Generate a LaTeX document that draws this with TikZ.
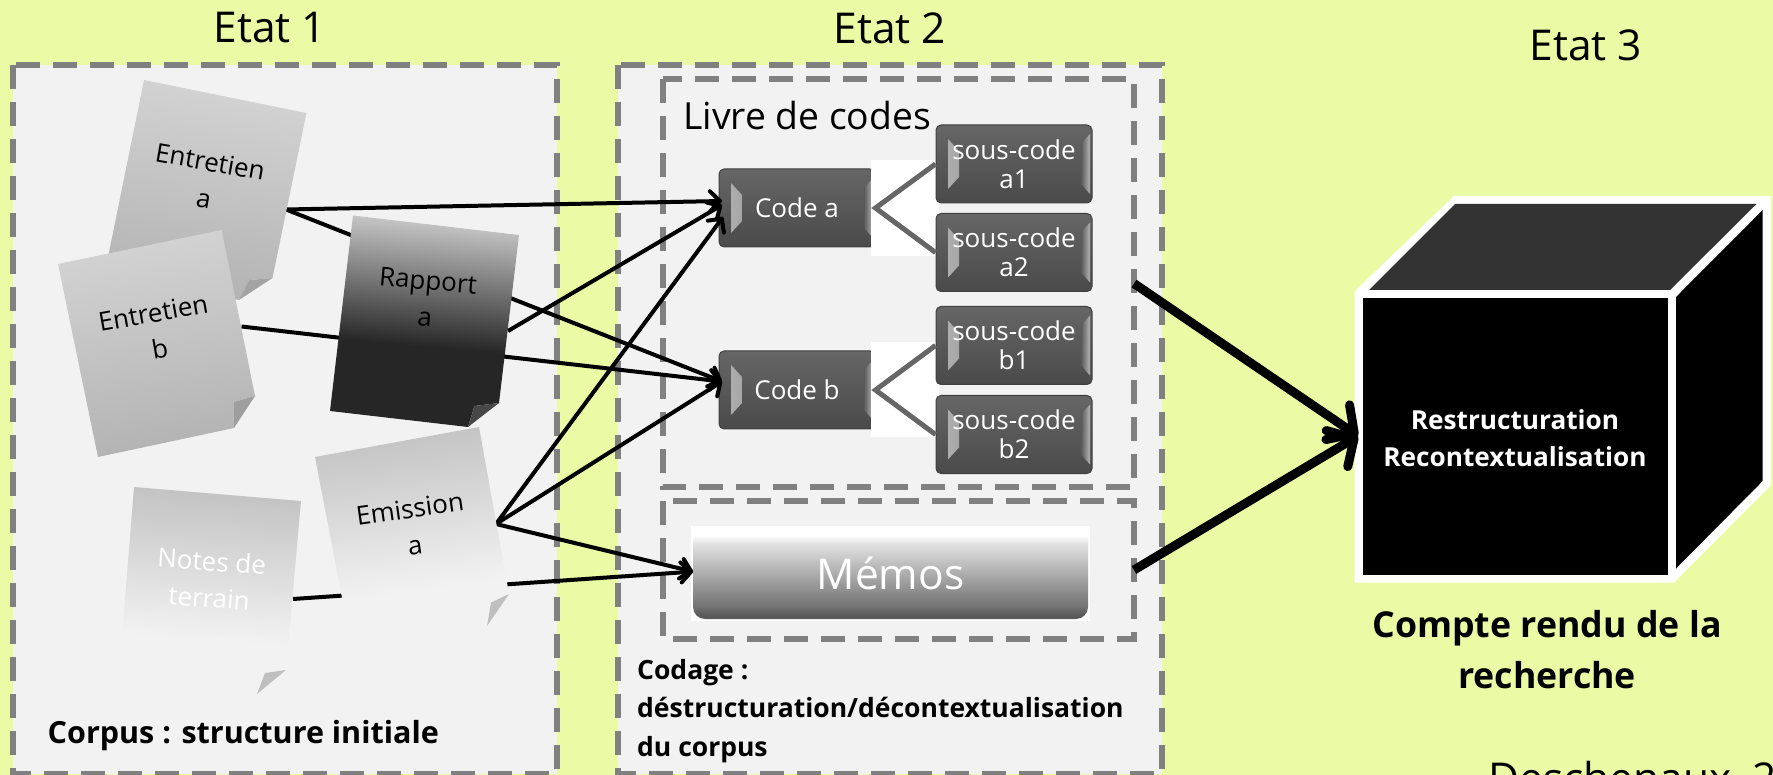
\documentclass[tikz,border=0pt]{standalone}
\usepackage{fontspec}
\setmainfont{Open Sans}
\usetikzlibrary{arrows.meta,calc,positioning}

\definecolor{slidebg}{HTML}{EBFBA5}
\definecolor{panelbg}{HTML}{F2F2F2}
\definecolor{dashgray}{HTML}{808080}
\definecolor{btntop}{HTML}{666666}
\definecolor{btnbot}{HTML}{4A4A4A}
\definecolor{btnmid}{HTML}{5A5A5A}
\definecolor{btnlight}{HTML}{B4B4B4}

% Paper and button gradients
\pgfdeclareverticalshading{papergray}{100bp}{color(0bp)=(black!30); color(25bp)=(black!30); color(75bp)=(black!17); color(100bp)=(black!17)}
\pgfdeclareverticalshading{paperdark}{100bp}{color(0bp)=(black!85); color(44bp)=(black!85); color(75bp)=(black!20); color(100bp)=(black!20)}
\pgfdeclareverticalshading{paperfade}{100bp}{color(0bp)=(panelbg); color(38bp)=(panelbg); color(75bp)=(black!24); color(100bp)=(black!24)}
\pgfdeclareverticalshading{memoshade}{100bp}{color(0bp)=(black!70); color(27bp)=(black!65); color(32bp)=(black!55); color(66bp)=(black!12); color(71bp)=(white); color(100bp)=(white)}

\begin{document}
\begin{tikzpicture}[x=1pt, y=-1pt,
    every node/.style={inner sep=0pt},
    panel/.style={fill=panelbg, draw=dashgray, line width=5.5pt, dash pattern=on 24pt off 13pt},
    innerpanel/.style={draw=dashgray, line width=5.5pt, dash pattern=on 24pt off 13pt},
    etat/.style={font=\fontsize{42.5}{50}\selectfont},
    boldnote/.style={font=\fontsize{30.5}{38.5}\selectfont\bfseries, align=left},
    papertext/.style={font=\fontsize{26}{37}\selectfont, align=center},
    bevelbox/.style={rounded corners=5pt, draw=black!75, line width=1pt, top color=btntop, bottom color=btnbot,
      text=white, align=center, path picture={
        \shade[sharp corners, left color=btnlight, right color=btnmid]
          ($(path picture bounding box.north west)+(12pt,-14pt)$) -- ++(11pt,-12pt)
          -- ($(path picture bounding box.south west)+(23pt,26pt)$) -- ++(-11pt,-12pt) -- cycle;
        \shade[sharp corners, left color=btnmid, right color=btnlight]
          ($(path picture bounding box.north east)+(-2pt,-9pt)$) -- ++(-9pt,-10pt)
          -- ($(path picture bounding box.south east)+(-11pt,19pt)$) -- ++(9pt,-10pt) -- cycle;
      }},
    codebox/.style={bevelbox, minimum width=156pt, minimum height=78pt, font=\fontsize{26}{30}\selectfont},
    subbox/.style={bevelbox, minimum width=156pt, minimum height=78pt, font=\fontsize{26}{29}\selectfont},
    flow/.style={line width=4pt, -{Straight Barb[length=10pt,width=20pt,round]}},
    bigflow/.style={line width=9pt, -{Straight Barb[length=20pt,width=42pt,round]}},
    branch/.style={line width=5pt, draw=black!60}]

  \clip (0,0) rectangle (1773,775);
  \fill[slidebg] (0,0) rectangle (1773,775);

  % Panels
  \path[panel] (13,65) rectangle (557,774);
  \path[panel] (618,65) rectangle (1162,774);
  \path[innerpanel] (663,79) rectangle (1134,487);
  \path[innerpanel] (663,501) rectangle (1134,639);

  % Titles
  \node[etat] (etatone) at (270,28) {Etat 1};
  \node[etat] (etattwo) at (890,28) {Etat 2};
  \node[etat] (etatthree) at (1586,45) {Etat 3};
  \node[anchor=base west, etat] (source) at (1488,793) {Deschenaux, 20};
  \node[anchor=west, font=\fontsize{37.3}{46}\selectfont] (livre) at (683,116) {Livre de codes};

  % Code buttons
  \node[codebox] (codea) at (797,208) {Code a};
  \node[codebox] (codeb) at (797,390) {Code b};
  \fill[white] (871,160) rectangle (939,256);
  \fill[white] (871,342) rectangle (939,437);
  \node[subbox] (suba1) at (1014,164) {sous-code\\a1};
  \node[subbox] (suba2) at (1014,252.5) {sous-code\\a2};
  \node[subbox] (subb1) at (1014,345.5) {sous-code\\b1};
  \node[subbox] (subb2) at (1014,434.5) {sous-code\\b2};
  \draw[branch] (suba1.west) -- (codea.east) -- (suba2.west);
  \draw[branch] (subb1.west) -- (codeb.east) -- (subb2.west);

  % Memo button
  \fill[white] (691,526) rectangle (1090,621);
  \node[rounded corners=12pt, minimum width=395pt, minimum height=91pt, shading=memoshade, text=white,
    font=\fontsize{42.5}{50}\selectfont] (memos) at (890.5,573.5) {Mémos};

  % Arrow ends
  \coordinate (outEa) at (286,209.5);
  \coordinate (outEb) at (241.5,326.5);
  \coordinate (outRa) at (508,331);
  \coordinate (outEm) at (496,524);
  \coordinate (outNo) at (293,599);
  \coordinate (inAtop) at (722,201);
  \coordinate (inAmid) at (722,205);
  \coordinate (inAlow) at (723,217);
  \coordinate (inB) at (722,381.5);
  \coordinate (inM) at (693,571.6);
  \coordinate (outLivre) at (1134,283.5);
  \coordinate (outMemo) at (1134,570);
  \coordinate (inCube) at (1358,436);

  % Arrows, the papers come on top of them
  \draw[flow] (outEa) -- (inAtop);
  \draw[flow] (outEa) -- (inB);
  \draw[flow] (outEb) -- (inB);
  \draw[flow] (outRa) -- (inAmid);
  \draw[flow] (outEm) -- (inAlow);
  \draw[flow] (outEm) -- (inB);
  \draw[flow] (outEm) -- (inM);
  \draw[flow] (outNo) -- (inM);

  % Papers
  \shade[shading=papergray, shading angle=-10] (144,80) -- (306.5,113) -- (272.5,278) -- (249,280) -- (239,300) -- (105,272) -- cycle;
  \fill[black!36] (272.5,278) -- (249,280) -- (239,300) -- cycle;
  \shade[shading=paperfade, shading angle=-4] (134,487) -- (301,501) -- (286,670) -- (265,673) -- (257,694) -- (119,674) -- cycle;
  \fill[black!25] (286,670) -- (265,673) -- (257,694) -- cycle;
  \shade[shading=papergray, shading angle=10] (58,264) -- (221.6,230) -- (255,396) -- (234,402) -- (234,428) -- (98,457) -- cycle;
  \fill[black!38] (255,396) -- (234,402) -- (234,428) -- cycle;
  \shade[shading=paperdark, shading angle=-5] (353,215.5) -- (519,235) -- (499,403) -- (474.5,406) -- (468,427) -- (330,411) -- cycle;
  \fill[black!72] (499,403) -- (474.5,406) -- (468,427) -- cycle;
  \shade[shading=paperfade, shading angle=8] (315,457) -- (479,427) -- (509,594) -- (491,602.6) -- (487,626) -- (352,650) -- cycle;
  \fill[black!25] (509,594) -- (491,602.6) -- (487,626) -- cycle;

  % Paper labels
  \node[papertext, rotate=-10] (entretiena) at (207,180) {Entretien\\a};
  \node[papertext, rotate=10] (entretienb) at (156.5,331) {Entretien\\b};
  \node[papertext, rotate=-5] (rapport) at (426.5,299) {Rapport\\a};
  \node[papertext, rotate=8] (emission) at (412.5,527) {Emission\\a};
  \node[papertext, rotate=-4, text=white] (notes) at (210.5,579.5) {Notes de\\terrain};

  % Bottom notes
  \node[anchor=west, boldnote] (corpus) at (47.5,736) {Corpus : structure initiale};
  \node[anchor=north west, boldnote, font=\fontsize{26.5}{38.5}\selectfont\bfseries] (codage) at (637,659) {Codage :\\déstructuration/décontextualisation\\du corpus};

  % Cube
  \fill[white] (1354.6,291.5) -- (1454,196) -- (1771,196) -- (1771,485) -- (1674,582.5) -- (1354.6,582.5) -- cycle;
  \fill[black!80] (1369,290) -- (1455,204) -- (1756.5,204) -- (1670,290) -- cycle;
  \fill[black] (1676,297) -- (1762.7,210) -- (1762.7,481) -- (1676,568.5) -- cycle;
  \fill[black] (1362.6,298) rectangle (1668.4,574.5);
  \node[text=white, align=center, font=\fontsize{26.2}{37.5}\selectfont\bfseries] (restruct) at (1515,438) {Restructuration\\Recontextualisation};
  \node[align=center, font=\fontsize{35.7}{51}\selectfont\bfseries] (compte) at (1547,650) {Compte rendu de la\\recherche};

  \draw[bigflow] (outLivre) -- (inCube);
  \draw[bigflow] (outMemo) -- (inCube);
\end{tikzpicture}
\end{document}
